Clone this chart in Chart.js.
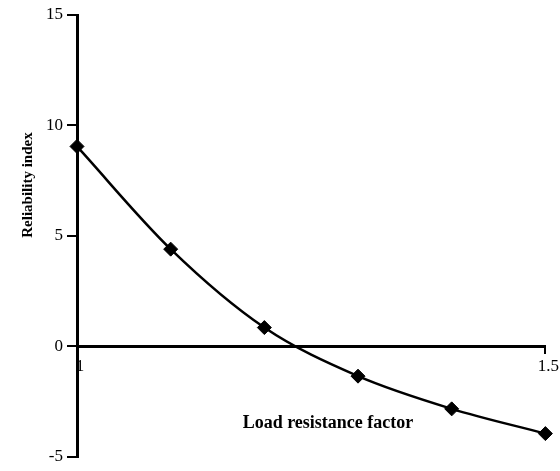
<!DOCTYPE html>
<html>
<head>
<meta charset="utf-8">
<script src="https://cdn.jsdelivr.net/npm/chart.js@4"></script>
<style>
  html, body { margin: 0; padding: 0; background: #fff; }
  #wrap { width: 560px; height: 471px; }
</style>
</head>
<body>
<div id="wrap"><canvas id="reliabilityChart"></canvas></div>
<script>
// load resistance factor vs reliability index
var factors = [1, 1.1, 1.2, 1.3, 1.4, 1.5];
var reliability = [9.05, 4.4, 0.85, -1.35, -2.83, -3.95];
var xTicks = [1, 1.5];
var xTitle = 'Load resistance factor';
var yTitle = 'Reliability index';

var serif = '"Liberation Serif", "Times New Roman", serif';

var points = factors.map(function (f, i) {
	return { x: f, y: reliability[i] };
});

// axis titles sit off-centre in the original, so draw them by hand
var titlesPlugin = {
	id: 'titles',
	afterDraw: function (chart) {
		var c = chart.ctx;
		c.save();
		c.fillStyle = '#000';
		c.textAlign = 'center';
		c.textBaseline = 'middle';
		c.font = 'bold 18px ' + serif;
		c.fillText(xTitle, 328, 423);
		c.translate(28, 185);
		c.rotate(-Math.PI / 2);
		c.font = 'bold 15px ' + serif;
		c.fillText(yTitle, 0, 0);
		c.restore();
	}
};

var ctx = document.getElementById('reliabilityChart');

new Chart(ctx, {
	type: 'scatter',
	data: {
		datasets: [{
			data: points,
			showLine: true,
			borderColor: '#000',
			borderWidth: 2.5,
			backgroundColor: '#000',
			cubicInterpolationMode: 'monotone',
			pointStyle: 'rectRot',
			pointRadius: 7,
			pointBorderWidth: 1,
			clip: false
		}]
	},
	options: {
		responsive: true,
		maintainAspectRatio: false,
		animation: false,
		layout: {
			padding: { left: 0, right: 14, top: 15, bottom: 10 }
		},
		plugins: {
			legend: { display: false },
			tooltip: { enabled: false }
		},
		scales: {
			x: {
				type: 'linear',
				position: { y: 0 },
				min: 1,
				max: 1.5,
				afterBuildTicks: function (scale) {
					scale.ticks = xTicks.map(function (v) { return { value: v }; });
				},
				ticks: {
					color: '#000',
					font: { family: serif, size: 17 },
					padding: 4,
					labelOffset: 3,
					maxRotation: 0,
					callback: function (v) { return String(v); }
				},
				grid: {
					drawOnChartArea: false,
					drawTicks: true,
					tickLength: 6,
					lineWidth: 2,
					color: '#000'
				},
				border: { color: '#000', width: 3 }
			},
			y: {
				min: -5,
				max: 15,
				afterFit: function (scale) { scale.width = 77; },
				ticks: {
					stepSize: 5,
					color: '#000',
					font: { family: serif, size: 17 },
					padding: 4
				},
				grid: {
					drawOnChartArea: false,
					drawTicks: true,
					tickLength: 10,
					lineWidth: 2,
					color: '#000'
				},
				border: { color: '#000', width: 3 }
			}
		}
	},
	plugins: [titlesPlugin]
});
</script>
</body>
</html>
